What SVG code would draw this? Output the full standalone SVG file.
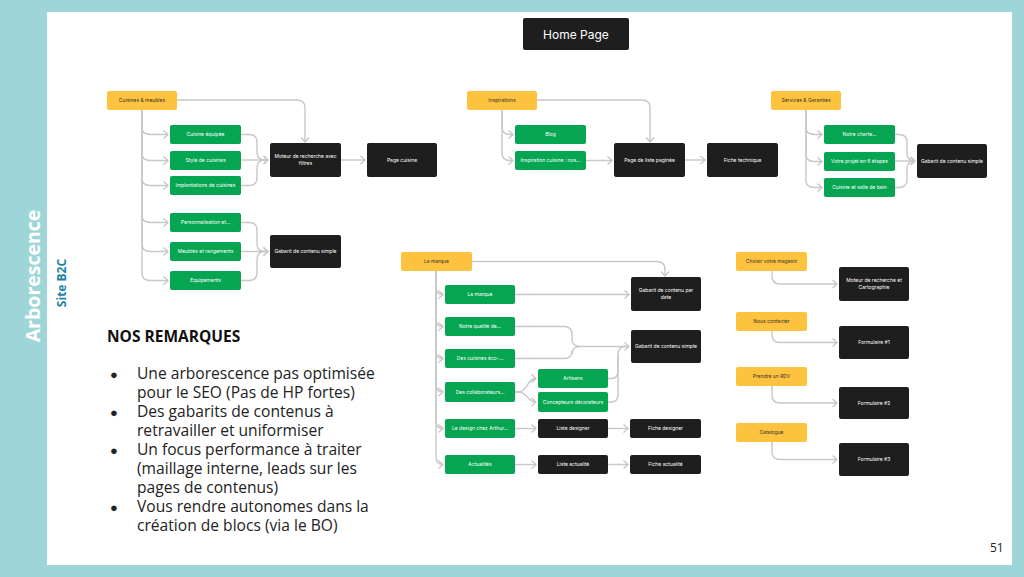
<svg xmlns="http://www.w3.org/2000/svg" width="1024" height="577" viewBox="0 0 1024 577">
<defs>
<marker id="arr" markerUnits="userSpaceOnUse" markerWidth="8" markerHeight="10" refX="6" refY="5" orient="auto">
<path d="M1.5,1 L6,5 L1.5,9" fill="none" stroke="#c4c4c4" stroke-width="1.2"/>
</marker>
<style>
.y{fill:#fdc23e;}
.g{fill:#06a552;}
.b{fill:#1e1e1e;}
.t{font-family:Inter,"Liberation Sans",sans-serif;font-size:5px;text-anchor:middle;}
.tw{fill:#ffffff;}
.td{fill:#333333;}
.c path{fill:none;stroke:#c8c8c8;stroke-width:1.4;}
.r{font-family:"Open Sans","Liberation Sans",sans-serif;font-size:15.6px;fill:#222222;}
</style>
</defs>
<rect x="0" y="0" width="1024" height="577" fill="#9ed5d8"/>
<rect x="47" y="12" width="965" height="553" fill="#ffffff"/>
<text x="0" y="0" transform="translate(40,276) rotate(-90)" font-family="Open Sans, Liberation Sans, sans-serif" font-weight="bold" font-size="19.5" fill="#ffffff" text-anchor="middle">Arborescence</text>
<text x="0" y="0" transform="translate(66,283) rotate(-90)" font-family="Open Sans, Liberation Sans, sans-serif" font-weight="bold" font-size="12" fill="#1d83a6" text-anchor="middle">Site B2C</text>

<g id="connectors" class="c">
<path d="M177,100 H297 Q305,100 305,108 V142" marker-end="url(#arr)"/>
<path d="M142,110 V127 Q142,134.5 150,134.5 H168" marker-end="url(#arr)"/>
<path d="M142,110 V153 Q142,160.5 150,160.5 H168" marker-end="url(#arr)"/>
<path d="M142,110 V178 Q142,185.5 150,185.5 H168" marker-end="url(#arr)"/>
<path d="M142,110 V215 Q142,222.5 150,222.5 H168" marker-end="url(#arr)"/>
<path d="M142,110 V244 Q142,251.5 150,251.5 H168" marker-end="url(#arr)"/>
<path d="M142,110 V273 Q142,280.5 150,280.5 H168" marker-end="url(#arr)"/>
<path d="M241,134.5 H249 Q257,134.5 257,142.5 V152 Q257,160 265,160 H268" marker-end="url(#arr)"/>
<path d="M241,160 H268" marker-end="url(#arr)"/>
<path d="M241,185.5 H249 Q257,185.5 257,177.5 V168 Q257,160 265,160 H268"/>
<path d="M341,160 H365" marker-end="url(#arr)"/>
<path d="M241,222.5 H249 Q257,222.5 257,230.5 V243.5 Q257,251.5 265,251.5 H268" marker-end="url(#arr)"/>
<path d="M241,251.5 H268" marker-end="url(#arr)"/>
<path d="M241,280.5 H249 Q257,280.5 257,272.5 V259.5 Q257,251.5 265,251.5 H268"/>
<path d="M537,100 H642 Q650,100 650,108 V142" marker-end="url(#arr)"/>
<path d="M502,110 V127 Q502,134.5 510,134.5 H513" marker-end="url(#arr)"/>
<path d="M502,110 V153 Q502,160.5 510,160.5 H513" marker-end="url(#arr)"/>
<path d="M586,160.5 H612" marker-end="url(#arr)"/>
<path d="M685,160 H705" marker-end="url(#arr)"/>
<path d="M806,110 V127 Q806,134.5 814,134.5 H822" marker-end="url(#arr)"/>
<path d="M806,110 V154 Q806,161.5 814,161.5 H822" marker-end="url(#arr)"/>
<path d="M806,110 V180 Q806,187.5 814,187.5 H822" marker-end="url(#arr)"/>
<path d="M895,134.5 H899 Q907,134.5 907,142.5 V153 Q907,161 915,161 H915" marker-end="url(#arr)"/>
<path d="M895,161 H915" marker-end="url(#arr)"/>
<path d="M895,187.5 H899 Q907,187.5 907,179.5 V169 Q907,161 915,161"/>
<path d="M472,261.5 H657 Q665,261.5 665,269.5 V276" marker-end="url(#arr)"/>
<path d="M436,271 V287 Q436,294.5 443,294.5" marker-end="url(#arr)"/>
<path d="M436,271 V319 Q436,326.5 443,326.5" marker-end="url(#arr)"/>
<path d="M436,271 V351 Q436,358.5 443,358.5" marker-end="url(#arr)"/>
<path d="M436,271 V384.5 Q436,392 443,392" marker-end="url(#arr)"/>
<path d="M436,271 V421 Q436,428.5 443,428.5" marker-end="url(#arr)"/>
<path d="M436,271 V457 Q436,464.5 443,464.5" marker-end="url(#arr)"/>
<path d="M515,294.5 H629" marker-end="url(#arr)"/>
<path d="M515,326.5 H564 Q572,326.5 572,334.5 V338.5 Q572,346.5 580,346.5 H629" marker-end="url(#arr)"/>
<path d="M515,358.5 H564 Q572,358.5 572,350.5 V354.5 Q572,346.5 580,346.5"/>
<path d="M608,378.5 H611 Q618,378.5 618,371 V354.5 Q618,346.5 626,346.5 H629"/>
<path d="M608,402 H611 Q618,402 618,394.5 V354.5"/>
<path d="M515,392 H519 C527,392 527,378.5 536,378.5" marker-end="url(#arr)"/>
<path d="M515,392 H519 C527,392 527,402 536,402" marker-end="url(#arr)"/>
<path d="M515,428.5 H536" marker-end="url(#arr)"/>
<path d="M608,428.5 H628" marker-end="url(#arr)"/>
<path d="M515,464.5 H536" marker-end="url(#arr)"/>
<path d="M608,464.5 H628" marker-end="url(#arr)"/>
<path d="M772,271 V276 Q772,284 780,284 H837" marker-end="url(#arr)"/>
<path d="M772,331 V334.5 Q772,342.5 780,342.5 H837" marker-end="url(#arr)"/>
<path d="M772,386 V395 Q772,403 780,403 H837" marker-end="url(#arr)"/>
<path d="M772,442 V451.5 Q772,459.5 780,459.5 H837" marker-end="url(#arr)"/>
</g>

<g id="home"><rect x="523" y="18" width="106" height="32" rx="2" class="b"/><text x="576" y="38.5" font-family="Inter,Liberation Sans,sans-serif" font-size="12" fill="#ffffff" text-anchor="middle">Home Page</text></g>

<g id="cuisines-meubles"><rect x="107" y="91" width="70" height="19" rx="2" class="y"/><text x="142" y="102" class="t td">Cuisines &amp; meubles</text></g>
<g id="cuisine-equipee"><rect x="170" y="125" width="71" height="19" rx="2" class="g"/><text x="205.5" y="136" class="t tw">Cuisine équipée</text></g>
<g id="style-cuisines"><rect x="170" y="151" width="71" height="19" rx="2" class="g"/><text x="205.5" y="162" class="t tw">Style de cuisines</text></g>
<g id="implantations"><rect x="170" y="176" width="71" height="19" rx="2" class="g"/><text x="205.5" y="187" class="t tw">Implantations de cuisines</text></g>
<g id="personnalisation"><rect x="170" y="213" width="71" height="19" rx="2" class="g"/><text x="205.5" y="224" class="t tw">Personnalisation et...</text></g>
<g id="meubles-rangements"><rect x="170" y="242" width="71" height="19" rx="2" class="g"/><text x="205.5" y="253" class="t tw">Meubles et rangements</text></g>
<g id="equipements"><rect x="170" y="271" width="71" height="19" rx="2" class="g"/><text x="205.5" y="282" class="t tw">Equipements</text></g>
<g id="moteur-filtres"><rect x="270" y="143" width="71" height="34" rx="2" class="b"/><text x="305.5" y="158" class="t tw">Moteur de recherche avec</text><text x="305.5" y="165" class="t tw">filtres</text></g>
<g id="page-cuisine"><rect x="367" y="143" width="70" height="34" rx="2" class="b"/><text x="402" y="161.5" class="t tw">Page cuisine</text></g>
<g id="gabarit-1"><rect x="270" y="235" width="71" height="33" rx="2" class="b"/><text x="305.5" y="253" class="t tw">Gabarit de contenu simple</text></g>

<g id="inspirations"><rect x="467" y="91" width="70" height="19" rx="2" class="y"/><text x="502" y="102" class="t td">Inspirations</text></g>
<g id="blog"><rect x="515" y="125" width="71" height="19" rx="2" class="g"/><text x="550.5" y="136" class="t tw">Blog</text></g>
<g id="inspiration-cuisine"><rect x="515" y="151" width="71" height="19" rx="2" class="g"/><text x="550.5" y="162" class="t tw">Inspiration cuisine : nos...</text></g>
<g id="page-liste"><rect x="614" y="143" width="71" height="34" rx="2" class="b"/><text x="649.5" y="161.5" class="t tw">Page de liste paginée</text></g>
<g id="fiche-technique"><rect x="707" y="143" width="71" height="34" rx="2" class="b"/><text x="742.5" y="161.5" class="t tw">Fiche technique</text></g>

<g id="services"><rect x="771" y="91" width="70" height="19" rx="2" class="y"/><text x="806" y="102" class="t td">Services &amp; Garanties</text></g>
<g id="notre-charte"><rect x="824" y="125" width="71" height="19" rx="2" class="g"/><text x="859.5" y="136" class="t tw">Notre charte...</text></g>
<g id="votre-projet"><rect x="824" y="152" width="71" height="19" rx="2" class="g"/><text x="859.5" y="163" class="t tw">Votre projet en 6 étapes</text></g>
<g id="cuisine-sdb"><rect x="824" y="178" width="71" height="19" rx="2" class="g"/><text x="859.5" y="189" class="t tw">Cuisine et salle de bain</text></g>
<g id="gabarit-2"><rect x="917" y="144" width="70" height="34" rx="2" class="b"/><text x="952" y="162.5" class="t tw">Gabarit de contenu simple</text></g>

<g id="la-marque-y"><rect x="401" y="252" width="71" height="19" rx="2" class="y"/><text x="436.5" y="263" class="t td">La marque</text></g>
<g id="la-marque-g"><rect x="445" y="285" width="70" height="19" rx="2" class="g"/><text x="480" y="296" class="t tw">La marque</text></g>
<g id="notre-qualite"><rect x="445" y="317" width="70" height="19" rx="2" class="g"/><text x="480" y="328" class="t tw">Notre qualité de...</text></g>
<g id="cuisines-eco"><rect x="445" y="349" width="70" height="19" rx="2" class="g"/><text x="480" y="360" class="t tw">Des cuisines éco-...</text></g>
<g id="collaborateurs"><rect x="445" y="382" width="70" height="20" rx="2" class="g"/><text x="480" y="393.5" class="t tw">Des collaborateurs...</text></g>
<g id="artisans"><rect x="538" y="369" width="70" height="19" rx="2" class="g"/><text x="573" y="380" class="t tw">Artisans</text></g>
<g id="concepteurs"><rect x="538" y="392" width="70" height="20" rx="2" class="g"/><text x="573" y="403.5" class="t tw">Concepteurs décorateurs</text></g>
<g id="design-arthur"><rect x="445" y="419" width="70" height="19" rx="2" class="g"/><text x="480" y="430" class="t tw">Le design chez Arthur...</text></g>
<g id="actualites"><rect x="445" y="455" width="70" height="19" rx="2" class="g"/><text x="480" y="466" class="t tw">Actualités</text></g>
<g id="gabarit-date"><rect x="631" y="277" width="70" height="34" rx="2" class="b"/><text x="666" y="292" class="t tw">Gabarit de contenu par</text><text x="666" y="299" class="t tw">date</text></g>
<g id="gabarit-3"><rect x="631" y="330" width="70" height="33" rx="2" class="b"/><text x="666" y="348" class="t tw">Gabarit de contenu simple</text></g>
<g id="liste-designer"><rect x="538" y="419" width="70" height="19" rx="2" class="b"/><text x="573" y="430" class="t tw">Liste designer</text></g>
<g id="fiche-designer"><rect x="630" y="419" width="71" height="19" rx="2" class="b"/><text x="665.5" y="430" class="t tw">Fiche designer</text></g>
<g id="liste-actualite"><rect x="538" y="455" width="70" height="19" rx="2" class="b"/><text x="573" y="466" class="t tw">Liste actualité</text></g>
<g id="fiche-actualite"><rect x="630" y="455" width="71" height="19" rx="2" class="b"/><text x="665.5" y="466" class="t tw">Fiche actualité</text></g>

<g id="choisir-magasin"><rect x="736" y="252" width="71" height="19" rx="2" class="y"/><text x="771.5" y="263" class="t td">Choisir votre magasin</text></g>
<g id="moteur-carto"><rect x="839" y="267" width="70" height="34" rx="2" class="b"/><text x="874" y="282" class="t tw">Moteur de recherche et</text><text x="874" y="289" class="t tw">Cartographie</text></g>
<g id="nous-contacter"><rect x="736" y="312" width="71" height="19" rx="2" class="y"/><text x="771.5" y="323" class="t td">Nous contacter</text></g>
<g id="formulaire-1"><rect x="839" y="326" width="70" height="33" rx="2" class="b"/><text x="874" y="344" class="t tw">Formulaire #1</text></g>
<g id="prendre-rdv"><rect x="736" y="367" width="71" height="19" rx="2" class="y"/><text x="771.5" y="378" class="t td">Prendre un RDV</text></g>
<g id="formulaire-2"><rect x="839" y="387" width="70" height="32" rx="2" class="b"/><text x="874" y="404.5" class="t tw">Formulaire #2</text></g>
<g id="catalogue"><rect x="736" y="423" width="71" height="19" rx="2" class="y"/><text x="771.5" y="434" class="t td">Catalogue</text></g>
<g id="formulaire-3"><rect x="839" y="443" width="70" height="33" rx="2" class="b"/><text x="874" y="461" class="t tw">Formulaire #3</text></g>

<g id="remarques">
<text x="107" y="342" font-family="Open Sans,Liberation Sans,sans-serif" font-weight="bold" font-size="15.5" fill="#111111">NOS REMARQUES</text>
<g class="r">
<text x="110" y="379" font-size="13">●</text><text x="137" y="379">Une arborescence pas optimisée</text>
<text x="137" y="398">pour le SEO (Pas de HP fortes)</text>
<text x="110" y="417" font-size="13">●</text><text x="137" y="417">Des gabarits de contenus à</text>
<text x="137" y="436">retravailler et uniformiser</text>
<text x="110" y="455" font-size="13">●</text><text x="137" y="455">Un focus performance à traiter</text>
<text x="137" y="474">(maillage interne, leads sur les</text>
<text x="137" y="493">pages de contenus)</text>
<text x="110" y="512" font-size="13">●</text><text x="137" y="512">Vous rendre autonomes dans la</text>
<text x="137" y="531">création de blocs (via le BO)</text>
</g>
</g>
<text x="990" y="552" font-family="Open Sans,Liberation Sans,sans-serif" font-size="12" fill="#222222">51</text>
</svg>
